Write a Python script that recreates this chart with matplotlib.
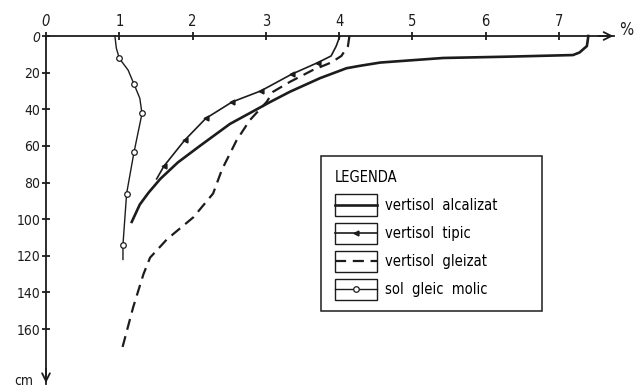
import matplotlib
matplotlib.use("Agg")
import matplotlib.pyplot as plt
from matplotlib.legend_handler import HandlerLine2D
from matplotlib.patches import Rectangle

plt.rcParams['font.family'] = ['DejaVu Sans']
plt.rcParams['font.stretch'] = 'condensed'

# ---- data (percent vs depth cm) ----
alc_x = [7.40, 7.38, 7.28, 7.19, 6.28, 5.42, 4.97, 4.56, 4.28, 4.10, 3.74, 3.33, 3.06, 2.51, 2.10, 1.80, 1.56, 1.40, 1.28, 1.17]
alc_d = [0, 5.5, 9, 10.4, 11.3, 12, 13.3, 14.5, 16.3, 17.6, 23, 30.4, 36, 48, 60, 69, 78, 85.5, 92, 101.5]

tip_x = [4.01, 3.96, 3.89, 3.71, 3.35, 2.93, 2.54, 2.18, 1.89, 1.61, 1.51]
tip_d = [0, 5.5, 10.9, 14.5, 20.9, 30, 36, 45, 57, 71, 78]
tip_marks = [3, 4, 5, 6, 7, 8, 9]

gle_x = [4.14, 4.12, 4.03, 3.89, 3.64, 3.33, 3.10, 3.01, 2.78, 2.60, 2.40, 2.28, 2.01, 1.65, 1.42, 1.33, 1.19, 1.03]
gle_d = [0, 5.5, 10.9, 14.5, 18.6, 25, 30.4, 36, 46, 57, 73, 86, 99, 111, 121, 130, 148, 172]

mol_x = [0.94, 0.96, 1.00, 1.12, 1.20, 1.28, 1.31, 1.20, 1.10, 1.05, 1.05]
mol_d = [0, 6.7, 12.2, 18.6, 26.2, 34, 42.3, 63.6, 86, 114, 122]
mol_marks = [2, 4, 6, 7, 8, 9]

labels = ["vertisol  alcalizat", "vertisol  tipic", "vertisol  gleizat", "sol  gleic  molic"]
xticks = [0, 1, 2, 3, 4, 5, 6, 7]
yticks = [0, 20, 40, 60, 80, 100, 120, 140, 160]

ink = '#1c1c1c'

fig = plt.figure(figsize=(6.34, 3.87), dpi=100)
ax = fig.add_axes([46/634, 3/387, 568/634, 348/387])
ax.set_xlim(0, 7.75)
ax.set_ylim(190.0, 0)

for s in ['right', 'bottom']:
    ax.spines[s].set_visible(False)
for s in ['top', 'left']:
    ax.spines[s].set_linewidth(1.3)
    ax.spines[s].set_color(ink)

ax.set_xticks(xticks)
ax.set_xticklabels([str(v) for v in xticks])
ax.set_yticks(yticks)
ax.set_yticklabels([str(v) for v in yticks])
ax.tick_params(axis='x', top=True, bottom=False, labeltop=True, labelbottom=False,
               direction='inout', length=6, width=1.3, pad=2, labelsize=10.5, colors=ink)
ax.tick_params(axis='y', direction='inout', length=6, width=1.3, pad=1, labelsize=10, colors=ink)
ax.get_xticklabels()[0].set_style('italic')
ax.get_yticklabels()[0].set_style('italic')

# arrowheads
ax.annotate('', xy=(7.78, 0), xytext=(7.5, 0), xycoords='data',
            arrowprops=dict(arrowstyle='->', lw=1.3, color=ink, mutation_scale=14),
            annotation_clip=False)
ax.annotate('', xy=(0, 191), xytext=(0, 180), xycoords='data',
            arrowprops=dict(arrowstyle='->', lw=1.3, color=ink, mutation_scale=14),
            annotation_clip=False)
fig.text(626/634, 1 - 30/387, '%', ha='center', va='center', fontsize=12, color=ink)
fig.text(24/634, 1 - 381/387, 'cm', ha='center', va='center', fontsize=10, color=ink)

l1, = ax.plot(alc_x, alc_d, '-', color=ink, lw=1.9, label=labels[0], clip_on=False)
l2, = ax.plot(tip_x, tip_d, '-', color=ink, lw=1.2, marker='<', ms=3.5, markevery=tip_marks,
              label=labels[1], clip_on=False)
l3, = ax.plot(gle_x, gle_d, '--', color=ink, lw=1.6, dashes=(5, 3), label=labels[2], clip_on=False)
l4, = ax.plot(mol_x, mol_d, '-', color=ink, lw=1.0, marker='o', ms=4, mfc='white', mec=ink,
              mew=0.9, markevery=mol_marks, label=labels[3], clip_on=False)


class BoxedHandler(HandlerLine2D):
    def create_artists(self, legend, orig_handle, xdescent, ydescent, width, height, fontsize, trans):
        arts = super().create_artists(legend, orig_handle, xdescent, ydescent, width, height, fontsize, trans)
        h = 1.45 * fontsize
        rect = Rectangle((-xdescent, -ydescent + height / 2 - h / 2), width, h,
                         fill=False, ec=ink, lw=1.0, transform=trans)
        return [rect] + list(arts)


leg = ax.legend(handles=[l1, l2, l3, l4], title='LEGENDA', loc='upper left',
                bbox_to_anchor=(321/634, 1 - 160/387, 221/634, 0.01), bbox_transform=fig.transFigure,
                mode='expand', borderaxespad=0, fontsize=10.5, title_fontsize=10.5, alignment='left',
                handlelength=2.9, handletextpad=0.55, borderpad=0.95, labelspacing=0.9,
                numpoints=1, fancybox=False, framealpha=1, edgecolor=ink,
                handler_map={l: BoxedHandler() for l in [l1, l2, l3, l4]})
leg.get_frame().set_linewidth(1.1)

fig.savefig('out.png', dpi=100, facecolor='white')
